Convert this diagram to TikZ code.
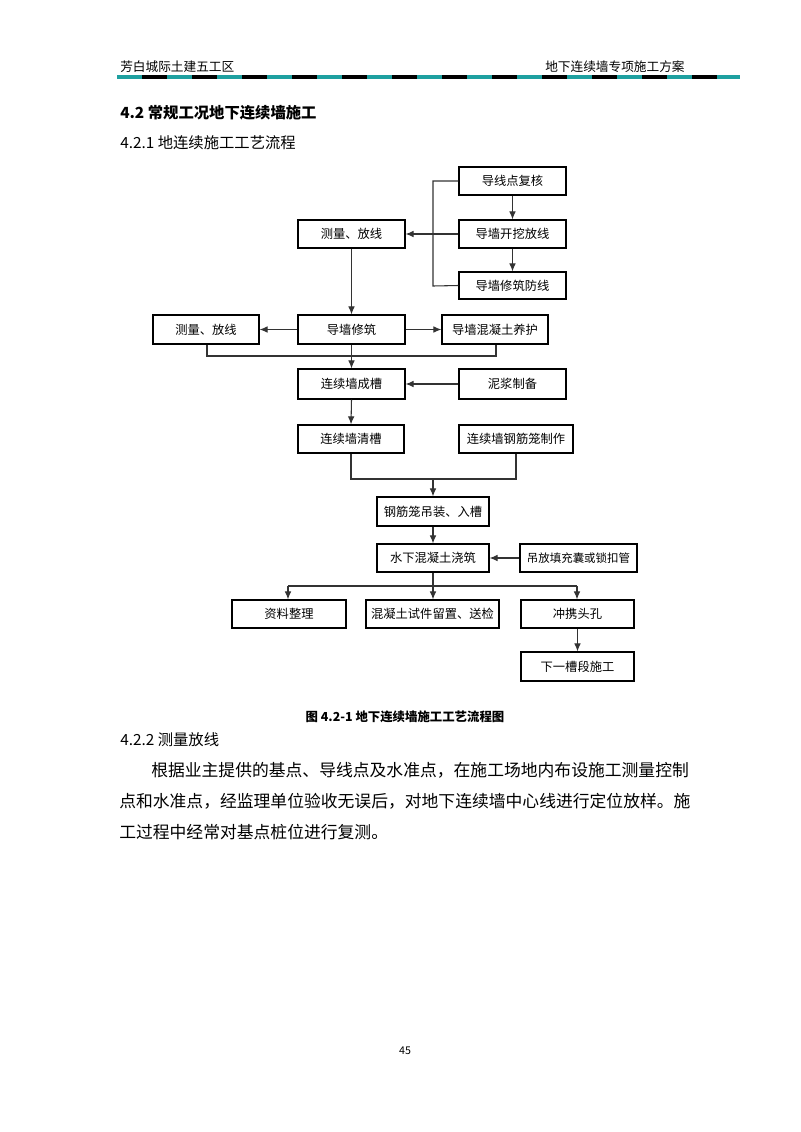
\documentclass[tikz,border=0pt]{standalone}
\usepackage{fontspec}
\setmainfont{Noto Sans CJK SC}
\usetikzlibrary{arrows.meta}
\definecolor{teal1}{RGB}{30,160,160}
\begin{document}
\begin{tikzpicture}[x=0.75pt,y=-0.75pt,
  bx/.style={draw,line width=0.9pt,rectangle,inner sep=0pt,font=\fontsize{9.2}{10}\selectfont},
  ln/.style={line width=0.8pt,draw=black!80},
  ar/.style={ln,-{Latex[length=6pt,width=5pt]}},
  txt/.style={inner sep=0pt,anchor=west}]
\useasboundingbox[fill=white] (0,0) rectangle (800,1132);
% header
\node[txt,font=\fontsize{9.5}{10}\selectfont] (h1) at (120,67) {芳白城际土建五工区};
\node[txt,font=\fontsize{9.5}{10}\selectfont] (h2) at (545,67) {地下连续墙专项施工方案};
\foreach \i in {0,...,24}{
  \pgfmathsetmacro\xa{117+25*\i}
  \pgfmathsetmacro\xb{min(117+25*(\i+1),740)}
  \ifodd\i \def\hc{black}\else \def\hc{teal1}\fi
  \draw[line width=2.4pt,draw=\hc] (\xa,77) -- (\xb,77);
}
\node[txt,font=\bfseries\fontsize{11.5}{12}\selectfont] (t1) at (120,113) {4.2 常规工况地下连续墙施工};
\node[txt,font=\fontsize{11.5}{12}\selectfont] (t2) at (120,143) {4.2.1 地连续施工工艺流程};
% boxes
\newcommand\bxat[6]{\node[bx,minimum width={(#4-#2)*0.75pt},minimum height={(#5-#3)*0.75pt}] (#1) at ({(#2+#4)/2},{(#3+#5)/2}) {#6};}
\bxat{a1}{459}{167}{566}{195}{导线点复核}
\bxat{a2}{459}{220}{566}{248}{导墙开挖放线}
\bxat{a3}{459}{272}{566}{299}{导墙修筑防线}
\bxat{m1}{298}{220}{405}{248}{测量、放线}
\bxat{l2}{153}{315}{259}{344}{测量、放线}
\bxat{m2}{298}{315}{405}{344}{导墙修筑}
\bxat{r2}{442}{315}{548}{344}{导墙混凝土养护}
\bxat{m3}{298}{369}{405}{399}{连续墙成槽}
\bxat{r3}{459}{369}{566}{399}{泥浆制备}
\bxat{m4}{298}{425}{404}{453}{连续墙清槽}
\bxat{r4}{459}{425}{573}{453}{连续墙钢筋笼制作}
\bxat{m5}{377}{497}{489}{526}{钢筋笼吊装、入槽}
\bxat{m6}{377}{544}{489}{572}{水下混凝土浇筑}
\node[bx,font=\fontsize{8.6}{9}\selectfont,minimum width={117*0.75pt},minimum height={28*0.75pt}] (r6) at (578.5,558) {吊放填充囊或锁扣管};
\bxat{b1}{232}{600}{346}{628}{资料整理}
\bxat{b2}{366}{600}{499}{628}{混凝土试件留置、送检}
\bxat{b3}{521}{600}{634}{628}{冲携头孔}
\bxat{b4}{521}{652}{634}{681}{下一槽段施工}
% connectors
\coordinate (k1) at (433,181);
\coordinate (k3) at (433,286);
\draw[ln] (a1.west) -- (k1) -- (k3) -- (a3.west);
\draw[ar] (a2.west) -- (m1.east);
\draw[ar] (a1.south) -- (a2.north);
\draw[ar] (a2.south) -- (a3.north);
\draw[ar] (m1.south) -- (m2.north);
\draw[ar] (m2.west) -- (l2.east);
\draw[ar] (m2.east) -- (r2.west);
\coordinate (j1) at (207,356);
\coordinate (j2) at (496,356);
\draw[ln] (l2.south-|j1) -- (j1) -- (j2) -- (r2.south-|j2);
\draw[ar] (m2.south) -- (m3.north);
\draw[ar] (r3.west) -- (m3.east);
\draw[ar] (m3.south) -- (m4.north);
\coordinate (c1) at (351,479);
\coordinate (c2) at (516,479);
\coordinate (cm) at (433,479);
\draw[ln] (m4.south-|c1) -- (c1) -- (c2) -- (r4.south-|c2);
\draw[ar] (cm) -- (m5.north);
\draw[ar] (m5.south) -- (m6.north);
\draw[ar] (r6.west) -- (m6.east);
\coordinate (d1) at (288,586);
\coordinate (dm) at (433,586);
\coordinate (d3) at (577,586);
\draw[ln] (m6.south) -- (dm);
\draw[ln] (d1) -- (d3);
\draw[ar] (d1) -- (b1.north-|d1);
\draw[ar] (dm) -- (b2.north-|dm);
\draw[ar] (d3) -- (b3.north-|d3);
\draw[ar] (b3.south) -- (b4.north);
% caption and text
\node[inner sep=0pt,font=\bfseries\fontsize{9.3}{10}\selectfont] (cap) at (405,717) {图 4.2-1 地下连续墙施工工艺流程图};
\node[txt,font=\fontsize{11.5}{12}\selectfont] (t3) at (120,740) {4.2.2 测量放线};
\node[txt,font=\fontsize{12.6}{13}\selectfont] (p1) at (151,770) {根据业主提供的基点、导线点及水准点，在施工场地内布设施工测量控制};
\node[txt,font=\fontsize{12.6}{13}\selectfont] (p2) at (119,801) {点和水准点，经监理单位验收无误后，对地下连续墙中心线进行定位放样。施};
\node[txt,font=\fontsize{12.6}{13}\selectfont] (p3) at (119,832) {工过程中经常对基点桩位进行复测。};
\node[inner sep=0pt,font=\fontsize{8}{9}\selectfont] (pg) at (405,1051) {45};
\end{tikzpicture}
\end{document}
